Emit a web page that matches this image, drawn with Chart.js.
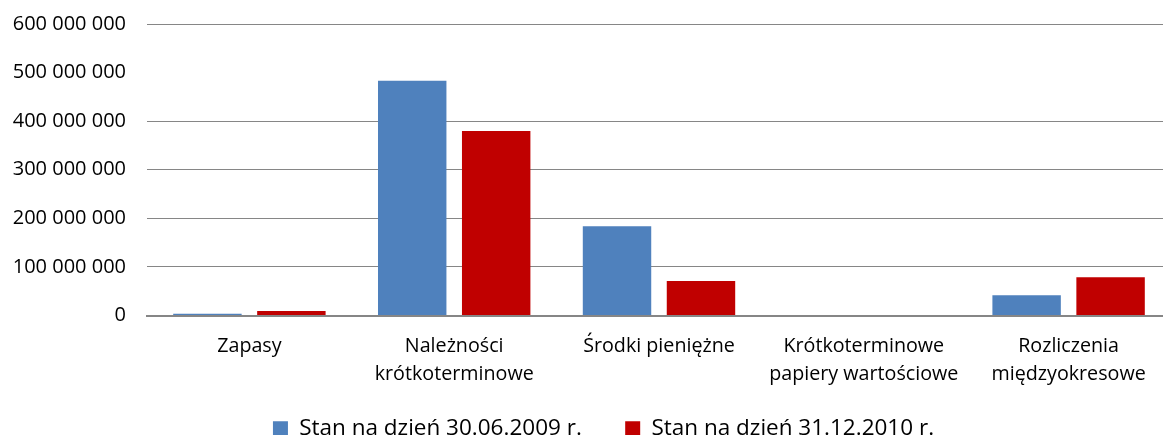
<!DOCTYPE html>
<html>
<head>
<meta charset="utf-8">
<script src="https://cdn.jsdelivr.net/npm/chart.js@4/dist/chart.umd.min.js"></script>
<style>
  html, body { margin: 0; padding: 0; background: #fff; overflow: hidden; }
  #wrap { width: 1171px; height: 450px; position: relative; }
</style>
</head>
<body>
<div id="wrap"><canvas id="chart"></canvas></div>
<script>
let categories = [
  'Zapasy',
  ['Należności', 'krótkoterminowe'],
  'Środki pieniężne',
  ['Krótkoterminowe', 'papiery wartościowe'],
  ['Rozliczenia', 'międzyokresowe']
];
let seriesNames = ['Stan na dzień 30.06.2009 r.', 'Stan na dzień 31.12.2010 r.'];
let values2009 = [3500000, 483000000, 184000000, 0, 42000000];
let values2010 = [9500000, 380000000, 71000000, 0, 79000000];
let yTicks = [0, 100000000, 200000000, 300000000, 400000000, 500000000, 600000000];

let font = "'Open Sans', sans-serif";
let gridColor = '#868686';

// format with spaces as thousand separators
function fmt(n) {
  return String(n).replace(/\B(?=(\d{3})+(?!\d))/g, ' ');
}

// the original legend is centred a bit to the right of the canvas middle
let legendShift = {
  id: 'legendShift',
  afterLayout: c => { c.legend.left += 36; }
};

let ctx = document.getElementById('chart');
let chart = new Chart(ctx, {
  type: 'bar',
  data: {
    labels: categories,
    datasets: [
      {label: seriesNames[0], data: values2009, backgroundColor: '#4F81BD'},
      {label: seriesNames[1], data: values2010, backgroundColor: '#C00000'}
    ]
  },
  plugins: [legendShift],
  options: {
    responsive: true,
    maintainAspectRatio: false,
    animation: false,
    datasets: {bar: {categoryPercentage: 0.82, barPercentage: 0.815}},
    layout: {padding: 0},
    plugins: {
      tooltip: {enabled: false},
      legend: {
        position: 'bottom',
        labels: {
          color: '#000',
          font: {family: font, size: 22.5},
          boxWidth: 15,
          boxHeight: 15,
          padding: 20,
          // a few spaces after the first entry push the second one right
          generateLabels: c => {
            let items = Chart.defaults.plugins.legend.labels.generateLabels(c);
            items[0].text = items[0].text + '    ';
            return items;
          }
        }
      }
    },
    scales: {
      x: {
        grid: {display: false},
        border: {display: true, color: gridColor, width: 2},
        ticks: {
          color: '#000',
          font: {family: font, size: 19.7, lineHeight: 1.42},
          padding: 9,
          maxRotation: 0,
          autoSkip: false
        }
      },
      y: {
        min: 0,
        max: 600000000,
        afterBuildTicks: s => { s.ticks = yTicks.map(v => ({value: v})); },
        afterFit: s => { s.width = 147; s.paddingTop = 24; },
        border: {display: false},
        grid: {
          drawTicks: false,
          lineWidth: 1,
          color: c => (c.tick && c.tick.value === 500000000) ? 'rgba(0,0,0,0)' : gridColor
        },
        ticks: {
          color: '#000',
          font: {family: font, size: 20},
          padding: 21,
          callback: v => fmt(v)
        }
      }
    }
  }
});
</script>
</body>
</html>
